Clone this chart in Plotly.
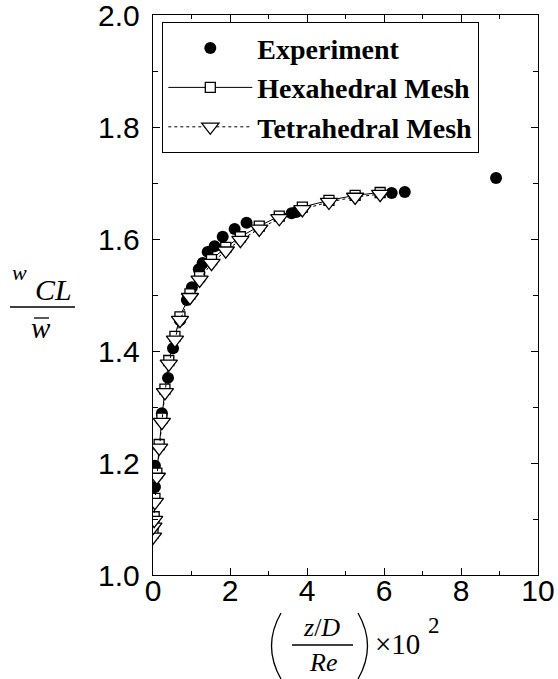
import plotly.graph_objects as go

# ---- data ----
exp_x = [0.05, 0.05, 0.23, 0.39, 0.52, 0.70, 0.88, 1.01, 1.19, 1.29, 1.42, 1.60, 1.81, 2.12, 2.43, 3.60, 3.72, 6.20, 6.54, 8.91]
exp_y = [1.157, 1.195, 1.289, 1.352, 1.405, 1.455, 1.491, 1.514, 1.546, 1.557, 1.577, 1.587, 1.604, 1.618, 1.629, 1.646, 1.648, 1.682, 1.684, 1.709]

hex_x = [0.00, 0.01, 0.03, 0.05, 0.10, 0.16, 0.23, 0.31, 0.41, 0.57, 0.70, 0.96, 1.21, 1.52, 1.89, 2.27, 2.76, 3.28, 3.88, 4.57, 5.25, 5.90]
hex_y = [1.075, 1.092, 1.104, 1.137, 1.182, 1.233, 1.280, 1.332, 1.383, 1.426, 1.461, 1.502, 1.533, 1.563, 1.585, 1.604, 1.623, 1.641, 1.657, 1.669, 1.678, 1.683]

tet_x = [0.00, 0.01, 0.03, 0.05, 0.10, 0.16, 0.23, 0.31, 0.41, 0.57, 0.70, 0.96, 1.21, 1.52, 1.89, 2.27, 2.76, 3.28, 3.88, 4.57, 5.25, 5.90]
tet_y = [1.068, 1.086, 1.098, 1.130, 1.175, 1.227, 1.273, 1.326, 1.377, 1.420, 1.455, 1.496, 1.527, 1.557, 1.579, 1.598, 1.618, 1.637, 1.653, 1.666, 1.675, 1.680]

x_ticks = [0, 2, 4, 6, 8, 10]
y_ticks = [1.0, 1.2, 1.4, 1.6, 1.8, 2.0]
y_tick_labels = ["1.0", "1.2", "1.4", "1.6", "1.8", "2.0"]

# ---- layout geometry (pixels) ----
W, H = 558, 679
L, R, T, B = 153, 538, 15, 575


def px(x):
    return (x - L) / (R - L)


def py(y):
    return (B - y) / (B - T)


fig = go.Figure()
fig.add_trace(go.Scatter(
    x=exp_x, y=exp_y, mode="markers", name="Experiment",
    marker=dict(symbol="circle", size=12, color="black"),
))
fig.add_trace(go.Scatter(
    x=hex_x, y=hex_y, mode="lines+markers", name="Hexahedral Mesh",
    line=dict(color="black", width=1),
    marker=dict(symbol="square", size=10, color="white", line=dict(color="black", width=1.3)),
))
fig.add_trace(go.Scatter(
    x=tet_x, y=tet_y, mode="lines+markers", name="Tetrahedral Mesh",
    line=dict(color="black", width=1, dash="dot"),
    marker=dict(symbol="triangle-down", size=15, color="white", line=dict(color="black", width=1.3)),
))

axis_common = dict(
    showgrid=False, zeroline=False, showline=True, linecolor="black", linewidth=1.4,
    mirror="allticks", ticks="inside", tickcolor="black", ticklen=7, tickwidth=1,
    ticklabeloverflow="allow", automargin=False,
    tickfont=dict(family="Liberation Sans, Arial, sans-serif", size=30, color="black"),
)

fig.update_xaxes(range=[0, 10], tickvals=x_ticks, ticktext=[str(v) for v in x_ticks],
                 minor=dict(dtick=1, ticks="inside", ticklen=4, tickcolor="black"),
                 ticklabelstandoff=-11,
                 **axis_common)
fig.update_yaxes(range=[1.0, 2.0], tickvals=y_ticks, ticktext=y_tick_labels,
                 minor=dict(dtick=0.1, ticks="inside", ticklen=5, tickcolor="black"),
                 ticklabelstandoff=6,
                 **axis_common)

serif = "Liberation Serif, Times New Roman, serif"
ann = []
shapes = []

# y-axis title: w_CL / w-bar
ann.append(dict(text="<i>w</i>", x=px(19), y=py(272), font=dict(family=serif, size=22)))
ann.append(dict(text="<i>CL</i>", x=px(53), y=py(289), font=dict(family=serif, size=30)))
shapes.append(dict(type="line", x0=px(10), x1=px(75), y0=py(307), y1=py(307)))
ann.append(dict(text="<i>w</i>", x=px(41), y=py(328), font=dict(family=serif, size=29)))
shapes.append(dict(type="line", x0=px(34), x1=px(49), y0=py(318), y1=py(318)))

# x-axis title: (z/D / Re) x 10^2
ann.append(dict(text="<i>z</i>/<i>D</i>", x=px(321), y=py(627), font=dict(family=serif, size=26)))
shapes.append(dict(type="line", x0=px(292), x1=px(353), y0=py(645), y1=py(645)))
ann.append(dict(text="<i>Re</i>", x=px(323), y=py(663), font=dict(family=serif, size=26)))
ann.append(dict(text="×10", x=px(397), y=py(644), font=dict(family=serif, size=29)))
ann.append(dict(text="2", x=px(434), y=py(625), font=dict(family=serif, size=23)))
# parentheses
shapes.append(dict(type="path",
                   path=f"M {px(281)},{py(613)} Q {px(262)},{py(646)} {px(281)},{py(679)}"))
shapes.append(dict(type="path",
                   path=f"M {px(358)},{py(613)} Q {px(377)},{py(646)} {px(358)},{py(679)}"))

for a in ann:
    a.update(xref="paper", yref="paper", showarrow=False, xanchor="center", yanchor="middle")
    a["font"]["color"] = "black"
for s in shapes:
    s.update(xref="paper", yref="paper", line=dict(color="black", width=1.3))

fig.update_layout(
    width=W, height=H,
    margin=dict(l=L, r=W - R, t=T, b=H - B, pad=0, autoexpand=False),
    paper_bgcolor="white", plot_bgcolor="white",
    showlegend=True,
    legend=dict(
        x=px(162), y=py(22), xanchor="left", yanchor="top",
        bgcolor="white", bordercolor="black", borderwidth=1.3,
        font=dict(family=serif, size=28, color="black", weight="bold"),
        itemwidth=84, tracegroupgap=0,
    ),
    annotations=ann, shapes=shapes,
)

fig.write_html("out.html", config={"displayModeBar": False},
               post_script="document.body.style.margin='0px';")
